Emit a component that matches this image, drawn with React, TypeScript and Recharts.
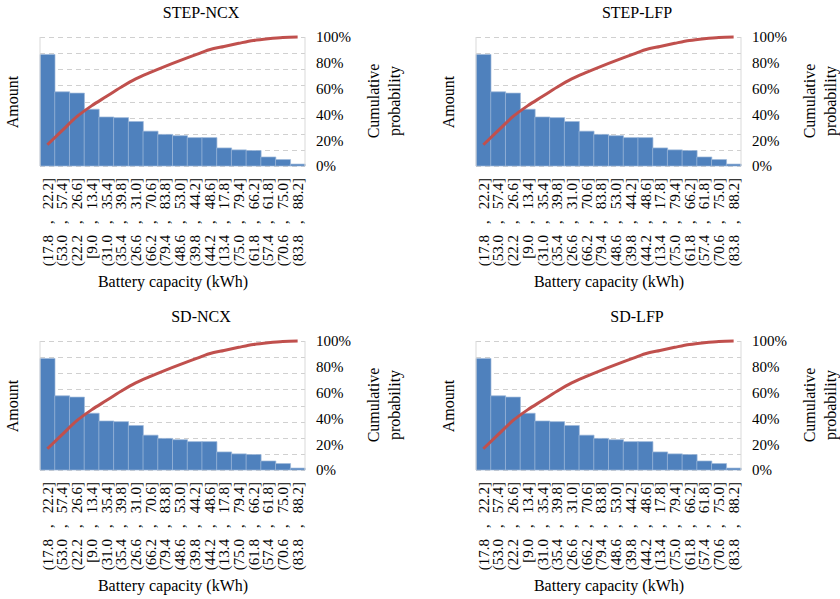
import React from "react";
import { ComposedChart, Bar, Line, XAxis, YAxis } from "recharts";

const ranges = [
  "(17.8 , 22.2]",
  "(53.0 , 57.4]",
  "(22.2 , 26.6]",
  "[9.0 , 13.4]",
  "(31.0 , 35.4]",
  "(35.4 , 39.8]",
  "(26.6 , 31.0]",
  "(66.2 , 70.6]",
  "(79.4 , 83.8]",
  "(48.6 , 53.0]",
  "(39.8 , 44.2]",
  "(44.2 , 48.6]",
  "(13.4 , 17.8]",
  "(75.0 , 79.4]",
  "(61.8 , 66.2]",
  "(57.4 , 61.8]",
  "(70.6 , 75.0]",
  "(83.8 , 88.2]",
];

const amounts = [173, 115, 113, 88, 76, 75, 69, 54, 49, 47, 44, 44, 28, 25, 24, 14, 10, 3];

const cumulative = [
  16.5, 27.4, 38.2, 46.6, 53.8, 61.0, 67.5, 72.6, 77.3, 81.7, 85.9, 90.1, 92.7,
  95.1, 97.3, 98.7, 99.7, 100,
];

const titles = ["STEP-NCX", "STEP-LFP", "SD-NCX", "SD-LFP"];

const amountMax = 200;
const amountTicks = [0, 25, 50, 75, 100, 125, 150, 175, 200];
const percentTicks = [0, 20, 40, 60, 80, 100];

const data = ranges.map((range, i) => ({
  range,
  amount: amounts[i],
  cum: cumulative[i],
}));

const FONT = '"Times New Roman", "Liberation Serif", serif';

const W = 420;
const H = 300;
const MARGIN = { top: 37, left: 39, right: 55, bottom: 24 };
const X_AXIS_H = 110;
const LEFT_AXIS_W = 1;
const RIGHT_AXIS_W = 60;
const PLOT_H = H - MARGIN.top - MARGIN.bottom - X_AXIS_H;
const PLOT_X0 = MARGIN.left + LEFT_AXIS_W;
const PLOT_X1 = W - MARGIN.right - RIGHT_AXIS_W;

// excel spreads the bin labels out around the comma
function RangeTick(props: any) {
  const { x, y, payload } = props;
  const [lo, hi] = String(payload.value).split(" , ");
  return (
    <text
      transform={`translate(${x},${y}) rotate(-90)`}
      textAnchor="end"
      dy="0.35em"
      fontSize={15}
      fontFamily={FONT}
      fill="#000"
    >
      <tspan>{lo}</tspan>
      <tspan dx={11}>,</tspan>
      <tspan dx={11}>{hi}</tspan>
    </text>
  );
}

// dashed rows at the (hidden) amount axis ticks, drawn under the chart
const gridRows = amountTicks.map(
  (t) => Math.round(MARGIN.top + PLOT_H * (1 - t / amountMax)) + 0.5
);

function GridUnderlay() {
  return (
    <svg
      width={W}
      height={H}
      style={{ position: "absolute", left: 0, top: 0 }}
    >
      {gridRows.map((gy) => (
        <line
          key={gy}
          x1={PLOT_X0}
          x2={PLOT_X1}
          y1={gy}
          y2={gy}
          stroke="#d0d0d0"
          strokeDasharray="5 4"
        />
      ))}
    </svg>
  );
}

function Pareto({ title, left, top }: { title: string; left: number; top: number }) {
  return (
    <div style={{ position: "absolute", left, top, width: W, height: H }}>
      <GridUnderlay />
      <ComposedChart
        width={W}
        height={H}
        data={data}
        barCategoryGap={0}
        barGap={0}
        margin={MARGIN}
      >
        <XAxis
          dataKey="range"
          interval={0}
          height={X_AXIS_H}
          axisLine={false}
          tickLine={false}
          tickSize={0}
          tickMargin={12}
          tick={<RangeTick />}
        />
        <YAxis
          yAxisId="left"
          orientation="left"
          width={LEFT_AXIS_W}
          domain={[0, amountMax]}
          ticks={amountTicks}
          interval={0}
          tick={false}
          tickLine={false}
          axisLine={{ stroke: "#d9d9d9" }}
        />
        <YAxis
          yAxisId="right"
          orientation="right"
          width={RIGHT_AXIS_W}
          domain={[0, 100]}
          ticks={percentTicks}
          tickFormatter={(v) => `${v}%`}
          tickLine={false}
          tickMargin={5}
          axisLine={{ stroke: "#d9d9d9" }}
          tick={{ fill: "#000", fontSize: 15, fontFamily: FONT }}
        />
        <Bar
          yAxisId="left"
          dataKey="amount"
          fill="#4f81bd"
          stroke="#9db8da"
          strokeWidth={0.7}
          isAnimationActive={false}
        />
        <Line
          yAxisId="right"
          dataKey="cum"
          type="monotone"
          stroke="#c0504d"
          strokeWidth={3}
          dot={false}
          isAnimationActive={false}
        />
      </ComposedChart>
      <div
        style={{
          position: "absolute",
          left: 201,
          top: 13,
          transform: "translate(-50%, -50%)",
          fontSize: 16,
          whiteSpace: "nowrap",
        }}
      >
        {title}
      </div>
      <div
        style={{
          position: "absolute",
          left: 13,
          top: 102,
          transform: "translate(-50%, -50%) rotate(-90deg)",
          fontSize: 16,
          whiteSpace: "nowrap",
        }}
      >
        Amount
      </div>
      <div
        style={{
          position: "absolute",
          left: 384,
          top: 101,
          transform: "translate(-50%, -50%) rotate(-90deg)",
          fontSize: 16,
          lineHeight: "21px",
          textAlign: "center",
          whiteSpace: "nowrap",
        }}
      >
        Cumulative
        <br />
        probability
      </div>
      <div
        style={{
          position: "absolute",
          left: 173,
          top: 282,
          transform: "translate(-50%, -50%)",
          fontSize: 16,
          whiteSpace: "nowrap",
        }}
      >
        Battery capacity (kWh)
      </div>
    </div>
  );
}

export default function App() {
  return (
    <div
      style={{
        position: "absolute",
        left: 0,
        top: 0,
        width: 840,
        height: 599,
        background: "#fff",
        fontFamily: FONT,
        color: "#000",
      }}
    >
      <Pareto title={titles[0]} left={0} top={0} />
      <Pareto title={titles[1]} left={436} top={0} />
      <Pareto title={titles[2]} left={0} top={304} />
      <Pareto title={titles[3]} left={436} top={304} />
    </div>
  );
}
